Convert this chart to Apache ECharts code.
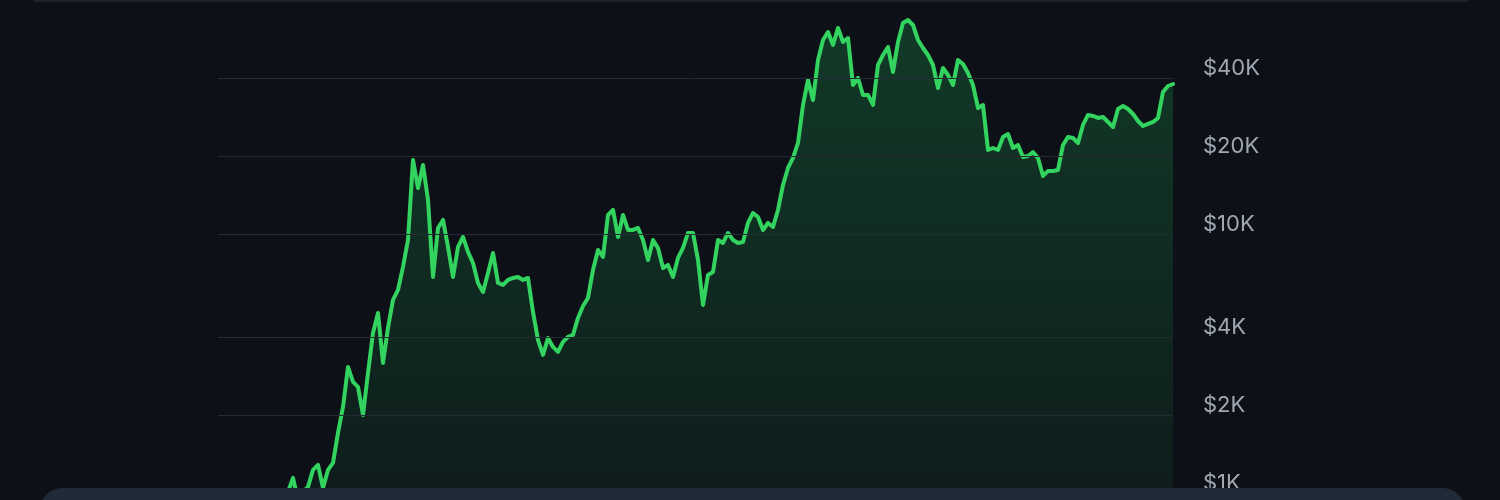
<!DOCTYPE html>
<html>
<head>
<meta charset="utf-8">
<script src="https://cdn.jsdelivr.net/npm/echarts@6/dist/echarts.min.js"></script>
<style>
  html, body { margin: 0; padding: 0; background: #0d1117; overflow: hidden; width: 1500px; height: 500px; }
  #chart { width: 1500px; height: 649px; }
</style>
</head>
<body>
<div id="chart"></div>
<script>
// Bitcoin price (USD), roughly every two weeks, mid-2016 to late 2023
const prices = [
  689, 659, 702, 671, 659, 671, 677, 689, 708, 733,
  774, 823, 876, 941, 1010, 1144, 941, 1010, 1056, 1228,
  1284, 1047, 1228, 1307, 1706, 2150, 3067, 2684, 2568, 2002,
  2908, 4150, 4956, 3178, 4339, 5562, 6079, 7459, 9481, 19302,
  15050, 18462, 13528, 6824, 10546, 11324, 8909, 6824, 8909, 9737,
  8523, 7728, 6470, 5972, 7071, 8448, 6470, 6356, 6645, 6764,
  6824, 6645, 6764, 5000, 3899, 3412, 3969, 3664, 3505, 3831,
  4005, 4077, 4741, 5273, 5662, 7263, 8677, 8153, 11838, 12376,
  9737, 11838, 10360, 10360, 10546, 9481, 7937, 9481, 8830, 7393,
  7593, 6824, 8081, 8830, 10088, 10088, 7937, 5320, 6947, 7135,
  9481, 9231, 10088, 9481, 9231, 9314, 11026, 12050, 11630, 10360,
  11026, 10640, 12376, 15456, 17978, 19648, 22448, 31468, 39296, 32904,
  46932, 56062, 60196, 53627, 62374, 55073, 57070, 37588, 40000, 34400,
  34400, 31468, 44899, 49062, 52680, 42189, 55073, 65211, 66979, 64061,
  56062, 52213, 49062, 44899, 36604, 43712, 41080, 37588, 46932, 45300,
  41820, 37588, 30644, 31468, 21092, 21472, 21092, 23676, 24316, 21472,
  22052, 19824, 20000, 20720, 19648, 16746, 17508, 17508, 17660, 22052,
  23676, 23468, 22448, 26344, 28792, 28540, 28036, 28284, 27056, 25880,
  30372, 31188, 30372, 29052, 27296, 26108, 26580, 27056, 28036, 35320,
  37256, 37924
];

// Axis tick values and their labels
const tickValues = [40000, 20000, 10000, 4000, 2000, 1000];
const tickLabels = ['$40K', '$20K', '$10K', '$4K', '$2K', '$1K'];

// Category dates (every 14 days from the start)
const startDate = '2016-06-05';
const stepDays = 14;
const categories = [];
{
  const t0 = new Date(startDate + 'T00:00:00Z').getTime();
  for (let i = 0; i < prices.length; i++) {
    categories.push(new Date(t0 + i * stepDays * 86400000).toISOString().slice(0, 10));
  }
}

const chart = echarts.init(document.getElementById('chart'), null, { renderer: 'canvas' });

const option = {
  backgroundColor: '#0d1117',
  animation: false,
  grid: { left: 218, top: 0, right: 327, bottom: 0, containLabel: false },
  xAxis: {
    type: 'category',
    data: categories,
    boundaryGap: false,
    show: false
  },
  yAxis: {
    type: 'log',
    logBase: 2,
    min: 250,
    max: 80000,
    show: false,
    splitLine: { show: false }
  },
  series: [{
    type: 'line',
    data: prices,
    showSymbol: false,
    symbol: 'none',
    lineStyle: { color: '#33d35f', width: 4, join: 'round', cap: 'round' },
    areaStyle: {
      color: new echarts.graphic.LinearGradient(0, 0, 0, 1, [
        { offset: 0, color: 'rgba(34,197,94,0.32)' },
        { offset: 1, color: 'rgba(34,197,94,0.02)' }
      ])
    },
    markLine: {
      silent: true,
      symbol: ['none', 'none'],
      animation: false,
      lineStyle: { color: '#242b36', width: 1, type: 'solid' },
      label: {
        show: true,
        position: 'end',
        distance: 30,
        offset: [0, -10],
        color: '#a0a8b3',
        fontSize: 22,
        fontFamily: 'Inter, "Noto Sans", sans-serif'
      },
      emphasis: { disabled: true },
      data: tickValues.map((v, i) => ({
        yAxis: v,
        label: { formatter: tickLabels[i] }
      }))
    },
    z: 2
  }],
  graphic: [
    {
      type: 'rect',
      left: 34, top: 0,
      shape: { width: 1434, height: 2 },
      style: { fill: '#1b222c' },
      silent: true
    },
    {
      type: 'rect',
      left: 40, top: 488,
      shape: { width: 1425, height: 60, r: 22 },
      style: { fill: '#202936' },
      silent: true,
      z: 10
    }
  ]
};

chart.setOption(option);
</script>
</body>
</html>
